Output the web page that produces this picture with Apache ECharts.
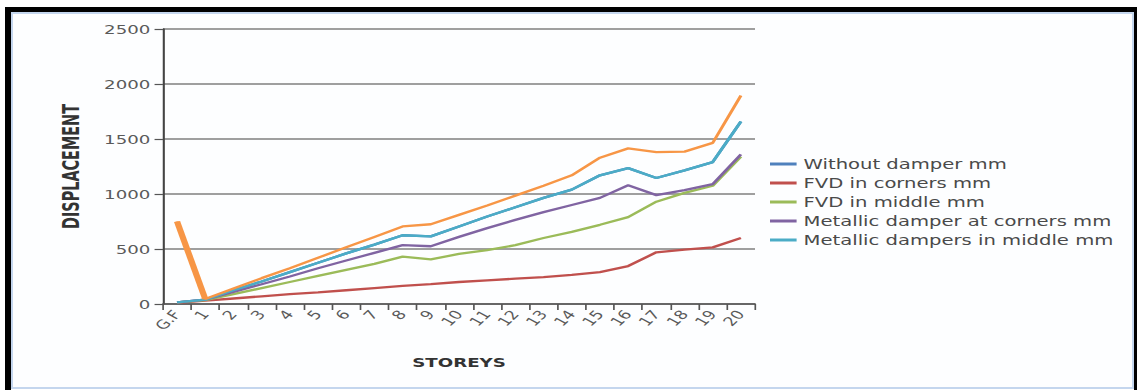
<!DOCTYPE html>
<html>
<head>
<meta charset="utf-8">
<script src="https://cdn.jsdelivr.net/npm/echarts@6/dist/echarts.min.js"></script>
<style>
  html, body { margin: 0; padding: 0; background: #ffffff; }
  body { width: 1139px; height: 390px; position: relative; overflow: hidden; }
  #frame {
    position: absolute; left: 5px; top: 7px; width: 1123px; height: 400px;
    border-left: 6px solid #000; border-top: 5px solid #000; border-right: 3px solid #000;
  }
  #inner {
    position: absolute; left: 11px; top: 12px; width: 1119px; height: 373px;
    border: 2px solid #c4d6ee; background: #fdfeff;
  }
  /* chart drawn narrow, then widened horizontally */
  #chart {
    position: absolute; left: 0; top: 0; width: 814px; height: 390px;
    transform: scaleX(1.4); transform-origin: 0 0;
  }
</style>
</head>
<body>
<div id="frame"></div>
<div id="inner"></div>
<div id="chart"></div>
<script>
const storeys = ['G.F', '1', '2', '3', '4', '5', '6', '7', '8', '9', '10',
  '11', '12', '13', '14', '15', '16', '17', '18', '19', '20'];

const withoutDamper = [15, 40, 125, 205, 290, 375, 460, 540, 625, 615, 705,
  795, 880, 965, 1040, 1170, 1235, 1145, 1215, 1290, 1660];
const fvdCorners = [10, 30, 50, 70, 90, 105, 125, 145, 165, 180, 200,
  215, 230, 245, 265, 290, 345, 470, 495, 515, 600];
const fvdMiddle = [15, 35, 90, 145, 200, 255, 310, 365, 430, 405, 455,
  490, 535, 600, 655, 720, 790, 930, 1010, 1075, 1340];
const metallicCorners = [15, 40, 110, 180, 250, 325, 395, 465, 535, 525, 610,
  690, 765, 835, 900, 965, 1080, 990, 1035, 1090, 1360];
const metallicMiddle = [15, 40, 125, 205, 290, 375, 460, 540, 625, 615, 705,
  795, 880, 965, 1040, 1170, 1235, 1145, 1215, 1290, 1660];
const series6 = [750, 45, 140, 235, 325, 420, 515, 610, 705, 725, 810,
  895, 985, 1075, 1170, 1330, 1415, 1380, 1385, 1465, 1895];

const yTicks = { min: 0, max: 2500, interval: 500 };

const legendNames = ['Without damper mm', 'FVD in corners mm', 'FVD in middle mm',
  'Metallic damper at corners mm', 'Metallic dampers in middle mm'];
const colors = ['#4F81BD', '#C0504D', '#9BBB59', '#8064A2', '#4BACC6', '#F79646'];

function lineSeries(name, data, color, width) {
  return {
    name: name, type: 'line', data: data, symbol: 'none',
    color: color,
    lineStyle: { color: color, width: width },
    emphasis: { disabled: true }
  };
}

const chart = echarts.init(document.getElementById('chart'), null, { renderer: 'svg' });
chart.setOption({
  animation: false,
  grid: { left: 116.4, width: 422.9, top: 29, height: 275, outerBoundsMode: 'none' },
  legend: {
    data: legendNames,
    orient: 'vertical',
    left: 550, top: 157, padding: 0,
    icon: 'rect', itemWidth: 19, itemHeight: 3, itemGap: 5,
    textStyle: { fontFamily: 'DejaVu Sans', fontSize: 14, color: '#4a4a4a' }
  },
  xAxis: {
    type: 'category', data: storeys, boundaryGap: true,
    axisLine: { lineStyle: { color: '#555', width: 1.5 } },
    axisTick: { show: true, length: 6, lineStyle: { color: '#555', width: 1.2 } },
    axisLabel: { interval: 0, rotate: 52, margin: 8, color: '#5a5a5a',
      fontFamily: 'DejaVu Sans', fontSize: 12.5 },
    name: 'STOREYS', nameLocation: 'middle', nameGap: 52,
    nameTextStyle: { fontFamily: 'DejaVu Sans', fontWeight: 'bold', fontSize: 13, color: '#333' }
  },
  yAxis: {
    type: 'value', min: yTicks.min, max: yTicks.max, interval: yTicks.interval,
    axisLine: { show: true, lineStyle: { color: '#444', width: 1.5 } },
    axisTick: { show: true, length: 6, lineStyle: { color: '#555', width: 1.2 } },
    splitLine: { lineStyle: { color: '#7f7f7f', width: 1.7 } },
    axisLabel: { margin: 9, color: '#5a5a5a', fontFamily: 'DejaVu Sans', fontSize: 13,
      formatter: function (v) { return String(v); } },
    name: 'DISPLACEMENT', nameLocation: 'middle', nameGap: 57,
    nameTextStyle: { fontFamily: 'Liberation Sans Narrow, DejaVu Sans Condensed, sans-serif',
      fontWeight: 'bold', fontSize: 16, color: '#333' }
  },
  series: [
    lineSeries(legendNames[0], withoutDamper, colors[0], 2.3),
    lineSeries(legendNames[1], fvdCorners, colors[1], 2.3),
    lineSeries(legendNames[2], fvdMiddle, colors[2], 2.3),
    lineSeries(legendNames[3], metallicCorners, colors[3], 2.3),
    lineSeries(legendNames[4], metallicMiddle, colors[4], 2.3),
    lineSeries('Series6', series6, colors[5], 2.3),
    lineSeries('Series6 base', series6.slice(0, 2), colors[5], 4.5)
  ]
});
</script>
</body>
</html>
